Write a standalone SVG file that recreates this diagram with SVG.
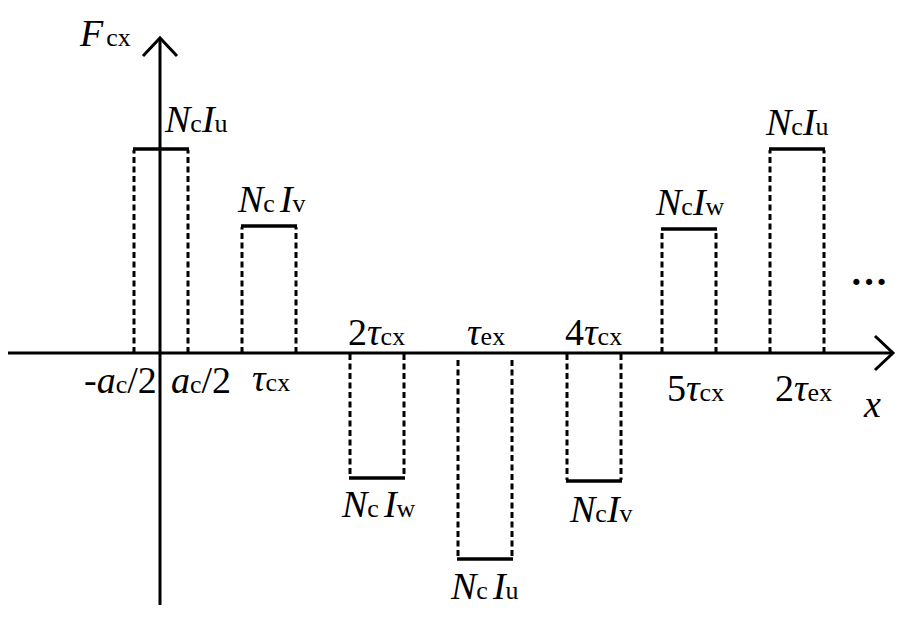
<svg xmlns="http://www.w3.org/2000/svg" width="910" height="624" viewBox="0 0 910 624">
<style>
.ax{stroke:#000;stroke-width:3;fill:none}
.top{stroke:#000;stroke-width:3.5;fill:none}
.dash{stroke:#000;stroke-width:3;stroke-dasharray:6 3.5;fill:none}
.i{font-style:italic}
.s{font-size:26px}
</style>
<g id="axes">
<line class="ax" x1="8" y1="353" x2="893" y2="353"/>
<polyline class="ax" points="875,336 893,353 875,370"/>
<line class="ax" x1="160" y1="605" x2="160" y2="38"/>
<polyline class="ax" points="143,56 160,38 177,56"/>
</g>
<g id="connectors">
<g id="p1"><path class="dash" d="M134,353V150M188,353V150"/><line class="top" x1="133" y1="149" x2="189" y2="149"/></g>
<g id="p2"><path class="dash" d="M242,353V227M296,353V227"/><line class="top" x1="241" y1="226" x2="297" y2="226"/></g>
<g id="p3"><path class="dash" d="M350,354V477M404,354V477"/><line class="top" x1="349" y1="478" x2="405" y2="478"/></g>
<g id="p4"><path class="dash" d="M458,360V558M512,360V558"/><line class="top" x1="457" y1="559" x2="513" y2="559"/></g>
<g id="p5"><path class="dash" d="M567,354V480M621,354V480"/><line class="top" x1="566" y1="481" x2="622" y2="481"/></g>
<g id="p6"><path class="dash" d="M662,353V230M716,353V230"/><line class="top" x1="661" y1="229" x2="717" y2="229"/></g>
<g id="p7"><path class="dash" d="M770,353V150M824,353V150"/><line class="top" x1="769" y1="149" x2="825" y2="149"/></g>
</g>
<g id="labels" font-family="'Liberation Serif', 'Times New Roman', serif" font-size="38" fill="#000">
<text x="80" y="46"><tspan class="i">F</tspan><tspan class="s" dx="3">cx</tspan></text>
<text x="165" y="132"><tspan class="i">N</tspan><tspan class="s">c</tspan><tspan class="i">I</tspan><tspan class="s">u</tspan></text>
<text x="238" y="212"><tspan class="i">N</tspan><tspan class="s">c</tspan><tspan class="i" dx="5">I</tspan><tspan class="s">v</tspan></text>
<text x="656" y="215"><tspan class="i">N</tspan><tspan class="s">c</tspan><tspan class="i">I</tspan><tspan class="s">w</tspan></text>
<text x="766" y="135"><tspan class="i">N</tspan><tspan class="s">c</tspan><tspan class="i">I</tspan><tspan class="s">u</tspan></text>
<text x="342" y="517"><tspan class="i">N</tspan><tspan class="s">c</tspan><tspan class="i" dx="5">I</tspan><tspan class="s">w</tspan></text>
<text x="451" y="599"><tspan class="i">N</tspan><tspan class="s">c</tspan><tspan class="i" dx="5">I</tspan><tspan class="s">u</tspan></text>
<text x="570" y="522"><tspan class="i">N</tspan><tspan class="s">c</tspan><tspan class="i">I</tspan><tspan class="s">v</tspan></text>
<text x="84" y="393">-<tspan class="i">a</tspan><tspan class="s">c</tspan>/2</text>
<text x="171" y="393"><tspan class="i">a</tspan><tspan class="s">c</tspan>/2</text>
<text x="252" y="391"><tspan class="i">τ</tspan><tspan class="s">cx</tspan></text>
<text x="348" y="345">2<tspan class="i">τ</tspan><tspan class="s">cx</tspan></text>
<text x="467" y="345"><tspan class="i">τ</tspan><tspan class="s">ex</tspan></text>
<text x="565" y="345">4<tspan class="i">τ</tspan><tspan class="s">cx</tspan></text>
<text x="667" y="401">5<tspan class="i">τ</tspan><tspan class="s">cx</tspan></text>
<text x="775" y="401">2<tspan class="i">τ</tspan><tspan class="s">ex</tspan></text>
<text class="i" x="864" y="417">x</text>
<text x="850" y="295" font-size="38" font-weight="bold">···</text>
</g>
</svg>
